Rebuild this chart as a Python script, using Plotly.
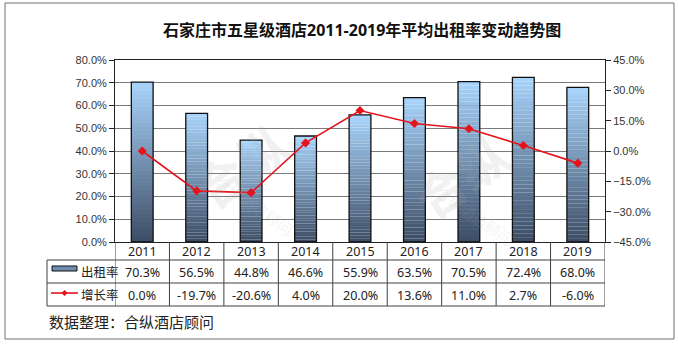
import plotly.graph_objects as go

# Data
years = ["2011", "2012", "2013", "2014", "2015", "2016", "2017", "2018", "2019"]
occupancy = [70.3, 56.5, 44.8, 46.6, 55.9, 63.5, 70.5, 72.4, 68.0]   # 出租率 (%)
growth = [0.0, -19.7, -20.6, 4.0, 20.0, 13.6, 11.0, 2.7, -6.0]       # 增长率 (%)

W, H = 678, 344
L, R, T, B = 115, 605, 60, 242   # plot area in pixels


def px(x):
    return (x - L) / (R - L)


def py(y):
    return (B - y) / (B - T)


occ = [v / 100 for v in occupancy]
gr = [v / 100 for v in growth]

fig = go.Figure()

# gradient bars built from stacked slices (dark at the bottom, light at the top)
N = 40
c_bot = (60, 76, 100)
c_top = (168, 212, 252)
for k in range(N):
    t = (k + 0.5) / N
    c = tuple(int(round(c_bot[i] + (c_top[i] - c_bot[i]) * t)) for i in range(3))
    fig.add_trace(go.Bar(
        x=years, y=[v / N for v in occ], base=[v * k / N for v in occ],
        width=0.4, marker=dict(color="rgb(%d,%d,%d)" % c, line=dict(width=0)),
        showlegend=False, hoverinfo="skip"))

# bar outlines
fig.add_trace(go.Bar(
    x=years, y=occ, width=0.4, name="出租率",
    marker=dict(color="rgba(0,0,0,0)", line=dict(color="#111111", width=1.3)),
    showlegend=False))

# growth line on the secondary axis
fig.add_trace(go.Scatter(
    x=years, y=gr, yaxis="y2", mode="lines+markers", name="增长率",
    line=dict(color="#e4141c", width=1.6),
    marker=dict(symbol="diamond", size=7, color="#e4141c"),
    showlegend=False))

shapes = []
annotations = []


def note(x, y, text, font, xref="paper", xanchor="center", **kw):
    annotations.append(dict(x=x, xref=xref, y=y, yref="paper", text=text,
                            showarrow=False, font=font, xanchor=xanchor,
                            yanchor="middle", **kw))


# outer frame
shapes.append(dict(type="rect", xref="paper", yref="paper",
                   x0=px(5), x1=px(674), y0=py(339), y1=py(3),
                   line=dict(color="#707070", width=1), layer="below"))

# data table grid
tcol = "#404040"
for yy in (260, 283, 306):
    shapes.append(dict(type="line", xref="paper", yref="paper",
                       x0=px(47), x1=px(R), y0=py(yy), y1=py(yy),
                       line=dict(color=tcol, width=1)))
shapes.append(dict(type="line", xref="paper", yref="paper",
                   x0=px(47), x1=px(47), y0=py(260), y1=py(306),
                   line=dict(color=tcol, width=1)))
for i in range(len(years) + 1):
    shapes.append(dict(type="line", xref="x", yref="paper",
                       x0=i - 0.5, x1=i - 0.5, y0=py(B), y1=py(306),
                       line=dict(color=tcol, width=1)))

cjk = "Noto Sans, Noto Sans CJK SC, sans-serif"
tfont = dict(family=cjk, size=12.5, color="#222222")
for i, yr in enumerate(years):
    note(i, py(251), yr, tfont, xref="x")
    note(i, py(272), "%.1f%%" % occupancy[i], tfont, xref="x")
    note(i, py(295), "%.1f%%" % growth[i], tfont, xref="x")

# legend keys inside the table
shapes.append(dict(type="rect", xref="paper", yref="paper",
                   x0=px(52), x1=px(77), y0=py(271), y1=py(266),
                   fillcolor="#6f8db0", line=dict(color="#111111", width=1)))
shapes.append(dict(type="line", xref="paper", yref="paper",
                   x0=px(51), x1=px(78), y0=py(293), y1=py(293),
                   line=dict(color="#e4141c", width=1.6)))
d = 3
shapes.append(dict(type="path", xref="paper", yref="paper",
                   path="M %f %f L %f %f L %f %f L %f %f Z" % (
                       px(64.5 - d), py(293), px(64.5), py(293 - d),
                       px(64.5 + d), py(293), px(64.5), py(293 + d)),
                   fillcolor="#e4141c", line=dict(width=0)))
note(px(79), py(272), "出租率", tfont, xanchor="left")
note(px(79), py(295), "增长率", tfont, xanchor="left")

# title and source note
note(px(362), py(30), "<b>石家庄市五星级酒店2011-2019年平均出租率变动趋势图</b>",
     dict(family=cjk, size=16, color="#111111"))
note(px(47), py(322), "数据整理：合纵酒店顾问",
     dict(family=cjk, size=15, color="#222222"), xanchor="left")

# faint watermarks
wm = "rgba(170,170,170,0.16)"
for cx, cy in [(240, 165), (460, 175)]:
    note(px(cx), py(cy), "<b>合纵</b>",
         dict(family="Noto Sans CJK SC, sans-serif", size=50, color=wm), textangle=-35)
    note(px(cx + 15), py(cy + 40), "合纵酒店顾问",
         dict(family="Noto Sans CJK SC, sans-serif", size=15, color=wm), textangle=35)

afont = dict(family="Liberation Sans, Arial, sans-serif", size=11, color="#333333")
fig.update_layout(
    width=W, height=H,
    margin=dict(l=L, r=W - R, t=T, b=H - B, pad=0),
    paper_bgcolor="white", plot_bgcolor="white",
    barmode="overlay",
    xaxis=dict(type="category", showticklabels=False, showgrid=False, ticks="",
               showline=True, linecolor="#222222", linewidth=1, mirror=True,
               range=[-0.5, len(years) - 0.5]),
    yaxis=dict(range=[0, 0.8], dtick=0.1, tickformat=".1%", tickfont=afont,
               showgrid=True, gridcolor="#7a7a7a", gridwidth=1,
               showline=True, linecolor="#222222", linewidth=1,
               ticks="outside", ticklen=5, tickcolor="#222222", zeroline=False),
    yaxis2=dict(range=[-0.45, 0.45], dtick=0.15, tickformat=".1%", tickfont=afont,
                overlaying="y", side="right", showgrid=False, zeroline=False,
                showline=True, linecolor="#222222", linewidth=1,
                ticks="outside", ticklen=5, tickcolor="#222222"),
    shapes=shapes, annotations=annotations,
    showlegend=False,
)

fig.write_html("out.html")
